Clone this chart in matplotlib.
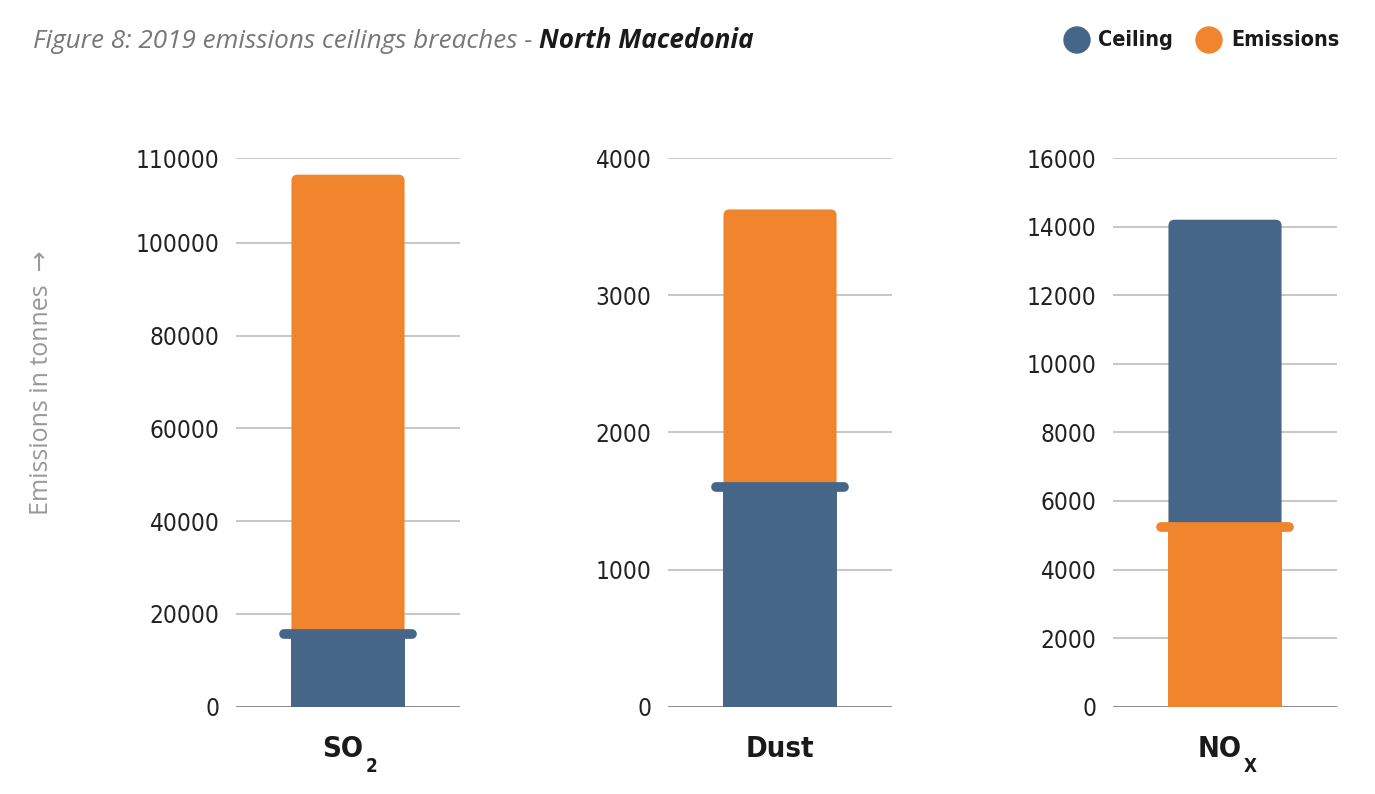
import matplotlib
matplotlib.use("Agg")
import matplotlib.pyplot as plt
from matplotlib.patches import Circle, FancyBboxPatch

# data
pollutants = ["SO", "Dust", "NO"]
subscripts = ["2", "", "X"]
ceilings = [15600, 1600, 14200]
emissions = [114700, 3625, 5250]
# the SO2 chart's top gridline is labelled 110000 but sits where ~118300 would be
ytick_pos = [
    [0, 20000, 40000, 60000, 80000, 100000, 118300],
    [0, 1000, 2000, 3000, 4000],
    [0, 2000, 4000, 6000, 8000, 10000, 12000, 14000, 16000],
]
ytick_lab = [
    ["0", "20000", "40000", "60000", "80000", "100000", "110000"],
    ["0", "1000", "2000", "3000", "4000"],
    ["0", "2000", "4000", "6000", "8000", "10000", "12000", "14000", "16000"],
]

BLUE = "#466688"
ORANGE = "#f0852d"

plt.rcParams["font.family"] = ["DejaVu Sans"]
plt.rcParams["font.stretch"] = "condensed"

W, H = 1375, 794
fig = plt.figure(figsize=(W / 100, H / 100), dpi=100)

lefts = [236, 668, 1113]
ax_w = 224
ax_bottom = H - 706.7
ax_top = H - 158
ax_h = ax_top - ax_bottom
bar_w = 1.01
radius_px = 6

for i, left in enumerate(lefts):
    ax = fig.add_axes([left / W, ax_bottom / H, ax_w / W, ax_h / H])
    c, e = ceilings[i], emissions[i]
    if e > c:
        back, back_col, front, front_col = e, ORANGE, c, BLUE
    else:
        back, back_col, front, front_col = c, BLUE, e, ORANGE

    for t in ytick_pos[i][1:]:
        ax.axhline(t, color="#bdbdbd", lw=1.2, zorder=0)
    ax.axhline(0, color="#6a6a6a", lw=1.8, zorder=1)

    # taller bar with rounded top corners (bottom is pushed below the axis and clipped)
    ux = 2 / ax_w
    uy = ytick_pos[i][-1] / ax_h
    r = radius_px * ux
    box = FancyBboxPatch((-bar_w / 2, -radius_px * 2 * uy), bar_w,
                         back + radius_px * 2 * uy,
                         boxstyle=f"round,pad=0,rounding_size={r}",
                         mutation_aspect=uy / ux, facecolor=back_col,
                         edgecolor="none", zorder=2)
    ax.add_patch(box)
    ax.bar(0, front, width=bar_w, color=front_col, zorder=3)
    ax.plot([-0.57, 0.57], [front, front], color=front_col, lw=7,
            solid_capstyle="round", zorder=4)

    ax.set_xlim(-1, 1)
    ax.set_ylim(0, ytick_pos[i][-1])
    ax.set_yticks(ytick_pos[i])
    ax.set_yticklabels(ytick_lab[i], fontsize=17.5, color="#222222",
                       fontstretch="condensed")
    ax.tick_params(axis="y", length=0, pad=12)
    ax.set_xticks([])
    for s in ax.spines.values():
        s.set_visible(False)
    ax.patch.set_alpha(0)

# overlay in pixel coordinates for title / legend / labels
ov = fig.add_axes([0, 0, 1, 1])
ov.set_xlim(0, W)
ov.set_ylim(H, 0)
ov.axis("off")
ov.patch.set_alpha(0)

main_labels = []
for i, left in enumerate(lefts):
    cx = left + ax_w / 2 - (5 if subscripts[i] else 0)
    t = ov.text(cx, 749, pollutants[i], ha="center", va="center", fontsize=21,
                fontweight="bold", color="#1a1a1a", fontstretch="condensed")
    main_labels.append(t)

t1 = ov.text(33, 41, "Figure 8: 2019 emissions ceilings breaches - ", fontsize=18.8,
             style="italic", color="#777777", va="center", ha="left",
             family=["Open Sans", "DejaVu Sans"], fontstretch="normal")
fig.canvas.draw()
bb = t1.get_window_extent()
ov.text(bb.x1, H - 41, "North Macedonia", fontsize=18.8, style="italic",
        fontweight="bold", color="#1a1a1a", va="center", ha="left",
        family=["Open Sans", "DejaVu Sans"], fontstretch="normal", transform=None)

for i, t in enumerate(main_labels):
    if subscripts[i]:
        tb = t.get_window_extent()
        ov.text(tb.x1 + 2, H - 767, subscripts[i], ha="left", va="center",
                fontsize=13.5, fontweight="bold", color="#1a1a1a",
                fontstretch="condensed", transform=None)

ov.add_patch(Circle((1077, 40), 13, color=BLUE))
ov.text(1098, 40, "Ceiling", fontsize=15.5, fontweight="bold", color="#1a1a1a",
        va="center", ha="left", fontstretch="condensed")
ov.add_patch(Circle((1209, 40), 13, color=ORANGE))
ov.text(1231, 40, "Emissions", fontsize=15.5, fontweight="bold", color="#1a1a1a",
        va="center", ha="left", fontstretch="condensed")

ov.text(42, 383, "Emissions in tonnes  \u2192", rotation=90, fontsize=18,
        color="#999999", va="center", ha="center",
        family=["Open Sans", "DejaVu Sans"], fontstretch="normal")

fig.savefig("out.png", dpi=100)
